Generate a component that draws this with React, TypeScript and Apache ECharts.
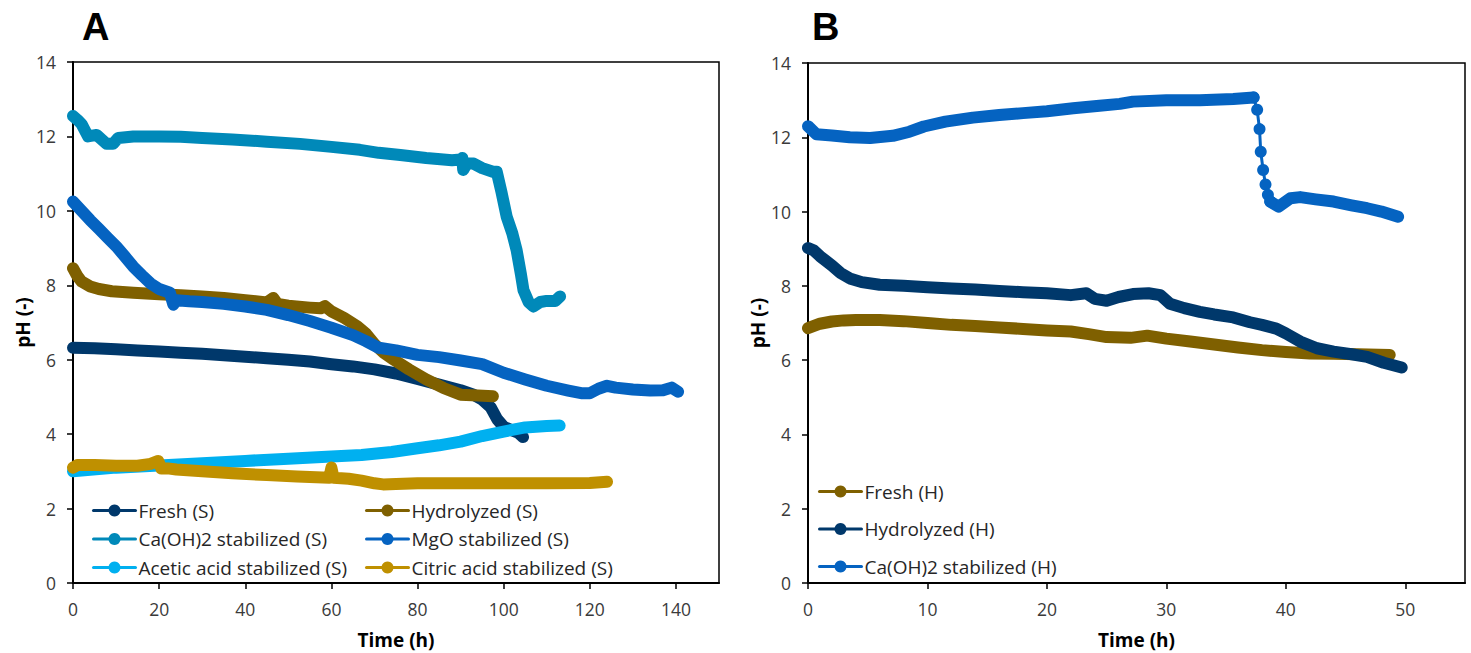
import React, { useEffect, useRef } from "react";
import * as echarts from "echarts";

type Pt = [number, number | string];

// ---------- Panel A (S) data: [time (h), pH] ----------
const freshS: Pt[] = [[0,6.32],[5,6.31],[10,6.28],[15,6.25],[20,6.22],[25,6.19],[30,6.16],[35,6.12],[40,6.08],[45,6.04],[50,6.0],[55,5.95],[60,5.88],[65,5.82],[70,5.74],[75,5.63],[80,5.48],[85,5.33],[90,5.18],[93,5.06],[95,4.93],[97,4.72],[98.5,4.4],[100,4.2],[102,4.1],[103.5,4.03],[104.5,3.92]];
const hydrolyzedS: Pt[] = [[0,8.46],[1,8.25],[2,8.1],[4,7.97],[6,7.9],[9,7.84],[14,7.8],[20,7.76],[25,7.73],[30,7.7],[35,7.66],[40,7.6],[45,7.54],[46.5,7.66],[47.5,7.5],[50,7.45],[55,7.4],[57.5,7.38],[58.5,7.44],[60,7.3],[63,7.12],[66,6.9],[68,6.7],[70,6.42],[72,6.2],[74.5,6.0],[78,5.74],[82,5.47],[86,5.24],[90,5.06],[94,5.04],[97.5,5.02]];
const caohS: Pt[] = [[0,12.55],[1,12.45],[2,12.33],[3.5,12.0],[5.5,12.04],[7.8,11.8],[9.3,11.8],[10.5,11.96],[14,12.0],[20,12.0],[25,11.99],[30,11.96],[37,11.92],[45,11.86],[52.7,11.8],[60,11.72],[66.6,11.64],[71,11.56],[76,11.5],[82,11.42],[88,11.36],[90,11.38],[90.4,11.42],[90.6,11.1],[91.5,11.28],[93,11.27],[95,11.15],[97.5,11.05],[98.4,11.05],[99.5,10.5],[100.7,9.84],[102,9.4],[103,8.95],[104,8.3],[104.6,7.87],[105.8,7.55],[106.9,7.43],[108.5,7.55],[110,7.58],[112,7.58],[113.1,7.7]];
const mgoS: Pt[] = [[0,10.25],[2,10.0],[4,9.75],[6,9.52],[8,9.28],[10,9.05],[12,8.78],[14,8.5],[16,8.27],[18,8.05],[20,7.9],[22.5,7.8],[23.3,7.48],[24,7.6],[27,7.57],[30,7.55],[35,7.5],[40,7.43],[45,7.34],[50,7.2],[55,7.04],[60,6.86],[65,6.66],[68,6.5],[71,6.32],[75,6.25],[80,6.13],[85,6.07],[90,5.98],[95,5.88],[100,5.65],[105,5.47],[110,5.3],[115,5.17],[118,5.1],[120,5.1],[122,5.22],[124,5.3],[126,5.25],[130,5.2],[134,5.17],[137,5.18],[139,5.25],[140.5,5.14]];
const aceticS: Pt[] = [[0,3.0],[10,3.1],[20,3.16],[30,3.22],[40,3.28],[50,3.34],[60,3.4],[67,3.44],[74,3.52],[80,3.62],[85,3.7],[90,3.8],[95,3.95],[100,4.07],[105,4.18],[110,4.22],[113,4.23]];
const citricS: Pt[] = [[0,3.1],[1,3.17],[5,3.17],[10,3.15],[15,3.15],[18,3.2],[19.8,3.28],[20.5,3.08],[22,3.08],[24,3.05],[30,3.0],[37,2.95],[45,2.9],[52,2.86],[59.5,2.83],[60,3.1],[60.5,2.83],[64,2.8],[67,2.75],[70,2.68],[72,2.65],[75,2.66],[80,2.68],[90,2.68],[100,2.68],[110,2.68],[120,2.69],[124,2.72]];

// ---------- Panel B (H) data ----------
const freshH: Pt[] = [[0,6.86],[1,6.98],[2,7.04],[3,7.07],[4,7.08],[6,7.08],[8,7.05],[10,7.0],[12,6.95],[14,6.92],[16,6.88],[18,6.84],[20,6.8],[22,6.77],[23.5,6.7],[25,6.62],[27,6.6],[28.4,6.66],[30,6.58],[32,6.5],[34,6.42],[36,6.34],[38,6.27],[40,6.22],[42,6.18],[44,6.17],[46,6.16],[48.7,6.14]];
const hydrolyzedH: Pt[] = [[0,9.02],[0.5,8.95],[1,8.8],[2,8.55],[2.7,8.35],[3.5,8.2],[4.5,8.1],[6,8.03],[8,8.0],[10,7.96],[12,7.93],[14,7.9],[16,7.86],[18,7.83],[20,7.8],[22,7.75],[23.3,7.8],[24,7.65],[25,7.6],[26,7.7],[27.2,7.78],[28.5,7.8],[29.5,7.75],[30.3,7.52],[31.5,7.4],[32.8,7.3],[34,7.23],[35.6,7.15],[37,7.02],[38,6.95],[39.2,6.85],[40,6.72],[41.2,6.5],[42.6,6.32],[44,6.23],[45.5,6.16],[46.8,6.09],[48.2,5.93],[49.7,5.8]];
const caohH: Pt[] = [[0,12.3],[0.7,12.08],[2,12.05],[3.5,12.0],[5.2,11.98],[7.1,12.04],[8.5,12.15],[9.7,12.29],[11.5,12.42],[13.8,12.53],[16,12.6],[18,12.65],[20,12.7],[22.2,12.78],[24.4,12.85],[26.1,12.9],[27.2,12.96],[30,13.0],[32.8,13.0],[35.6,13.03],[37.3,13.07],[37.5,"-"],[38.7,10.27],[39.4,10.13],[40.4,10.36],[41.2,10.39],[42.5,10.33],[44,10.27],[45.5,10.17],[46.8,10.09],[48,10.0],[49.4,9.86]];
const caohHDrop: Pt[] = [[37.3,13.07],[37.6,12.74],[37.8,12.22],[37.9,11.61],[38.1,11.12],[38.3,10.73],[38.5,10.45],[38.7,10.27]];

const xTicksA = [0, 20, 40, 60, 80, 100, 120, 140];
const xTicksB = [0, 10, 20, 30, 40, 50];

const namesA1 = ["Fresh (S)", "Ca(OH)2 stabilized (S)", "Acetic acid stabilized (S)"];
const namesA2 = ["Hydrolyzed (S)", "MgO stabilized (S)", "Citric acid stabilized (S)"];
const namesB = ["Fresh (H)", "Hydrolyzed (H)", "Ca(OH)2 stabilized (H)"];

const C_NAVY = "#00386B";
const C_OLIVE = "#7F6000";
const C_TEAL = "#0089B9";
const C_BLUE = "#0563C1";
const C_LIGHT = "#00B0F0";
const C_GOLD = "#BF9000";

const FONT = "'Open Sans', 'Noto Sans', sans-serif";

function thick(name: string, data: Pt[], color: string, idx: number) {
  return {
    type: "line",
    name,
    data,
    xAxisIndex: idx,
    yAxisIndex: idx,
    color,
    symbol: "circle",
    symbolSize: 12,
    showSymbol: false,
    lineStyle: { width: 12, color, cap: "round", join: "round" },
    itemStyle: { color },
    emphasis: { disabled: true },
    connectNulls: false,
  };
}

function xAxis(idx: number, max: number, interval: number, ticks: number[]) {
  return {
    type: "value",
    gridIndex: idx,
    min: 0,
    max,
    interval,
    name: "Time (h)",
    nameLocation: "middle",
    nameGap: 47,
    nameTextStyle: { fontFamily: FONT, fontWeight: "bold", fontSize: 19, color: "#000" },
    axisLine: { show: true, onZero: false, lineStyle: { color: "#000", width: 2 } },
    axisTick: { show: true, inside: false, length: 6, lineStyle: { color: "#000", width: 1.5 }, customValues: ticks },
    axisLabel: { show: true, margin: 17, fontSize: 17.5, color: "#3A3A3A", fontFamily: FONT, customValues: ticks },
    splitLine: { show: false },
  };
}

function yAxis(idx: number, gap: number) {
  return {
    type: "value",
    gridIndex: idx,
    min: 0,
    max: 14,
    interval: 2,
    name: "pH (-)",
    nameLocation: "middle",
    nameGap: gap,
    nameTextStyle: { fontFamily: FONT, fontWeight: "bold", fontSize: 19, color: "#000" },
    axisLine: { show: true, onZero: false, lineStyle: { color: "#000", width: 2 } },
    axisTick: { show: true, inside: false, length: 6, lineStyle: { color: "#000", width: 1.5 } },
    axisLabel: { show: true, margin: 17, fontSize: 17.5, color: "#3A3A3A", fontFamily: FONT },
    splitLine: { show: false },
  };
}

function legend(names: string[], left: number, top: number, gap: number) {
  return {
    show: true,
    data: names,
    orient: "vertical",
    left,
    top,
    padding: 0,
    itemWidth: 42,
    itemHeight: 15,
    itemGap: gap,
    selectedMode: false,
    lineStyle: { width: 3 },
    textStyle: { fontFamily: FONT, fontSize: 19, lineHeight: 19, color: "#262626", padding: [0, 0, 0, -2] },
  };
}

export default function App() {
  const ref = useRef<HTMLDivElement>(null);
  useEffect(() => {
    if (!ref.current) return;
    const chart = echarts.init(ref.current, null, { renderer: "svg" });
    const option: any = {
      animation: false,
      backgroundColor: "#fff",
      textStyle: { fontFamily: FONT },
      graphic: [
        { type: "text", left: 82, top: 8, style: { text: "A", fontSize: 38, fontWeight: "bold", fontFamily: "'Liberation Sans', Arial, sans-serif", fill: "#000" } },
        { type: "text", left: 812, top: 8, style: { text: "B", fontSize: 38, fontWeight: "bold", fontFamily: "'Liberation Sans', Arial, sans-serif", fill: "#000" } },
      ],
      grid: [
        { left: 73, top: 62, width: 646, height: 521, show: true, borderColor: "#000", borderWidth: 1.5, backgroundColor: "transparent", outerBoundsMode: "none", containLabel: false },
        { left: 808, top: 63, width: 657, height: 520, show: true, borderColor: "#000", borderWidth: 1.5, backgroundColor: "transparent", outerBoundsMode: "none", containLabel: false },
      ],
      xAxis: [xAxis(0, 150, 20, xTicksA), xAxis(1, 55, 10, xTicksB)],
      yAxis: [yAxis(0, 41), yAxis(1, 39)],
      legend: [
        legend(namesA1, 92, 501, 9.5),
        legend(namesA2, 365, 501, 9.5),
        legend(namesB, 818, 482, 18.5),
      ],
      series: [
        thick("Fresh (S)", freshS, C_NAVY, 0),
        thick("Hydrolyzed (S)", hydrolyzedS, C_OLIVE, 0),
        thick("Ca(OH)2 stabilized (S)", caohS, C_TEAL, 0),
        thick("MgO stabilized (S)", mgoS, C_BLUE, 0),
        thick("Acetic acid stabilized (S)", aceticS, C_LIGHT, 0),
        thick("Citric acid stabilized (S)", citricS, C_GOLD, 0),
        thick("Fresh (H)", freshH, C_OLIVE, 1),
        thick("Hydrolyzed (H)", hydrolyzedH, C_NAVY, 1),
        thick("Ca(OH)2 stabilized (H)", caohH, C_BLUE, 1),
        {
          type: "line",
          name: "Ca(OH)2 stabilized (H)",
          data: caohHDrop,
          xAxisIndex: 1,
          yAxisIndex: 1,
          color: C_BLUE,
          symbol: "circle",
          symbolSize: 12,
          showSymbol: true,
          lineStyle: { width: 3, color: C_BLUE },
          itemStyle: { color: C_BLUE },
          emphasis: { disabled: true },
        },
      ],
    };
    chart.setOption(option);
    return () => chart.dispose();
  }, []);
  return (
    <div
      ref={ref}
      style={{ position: "fixed", left: 0, top: 0, width: 1471, height: 653, background: "#fff" }}
    />
  );
}
